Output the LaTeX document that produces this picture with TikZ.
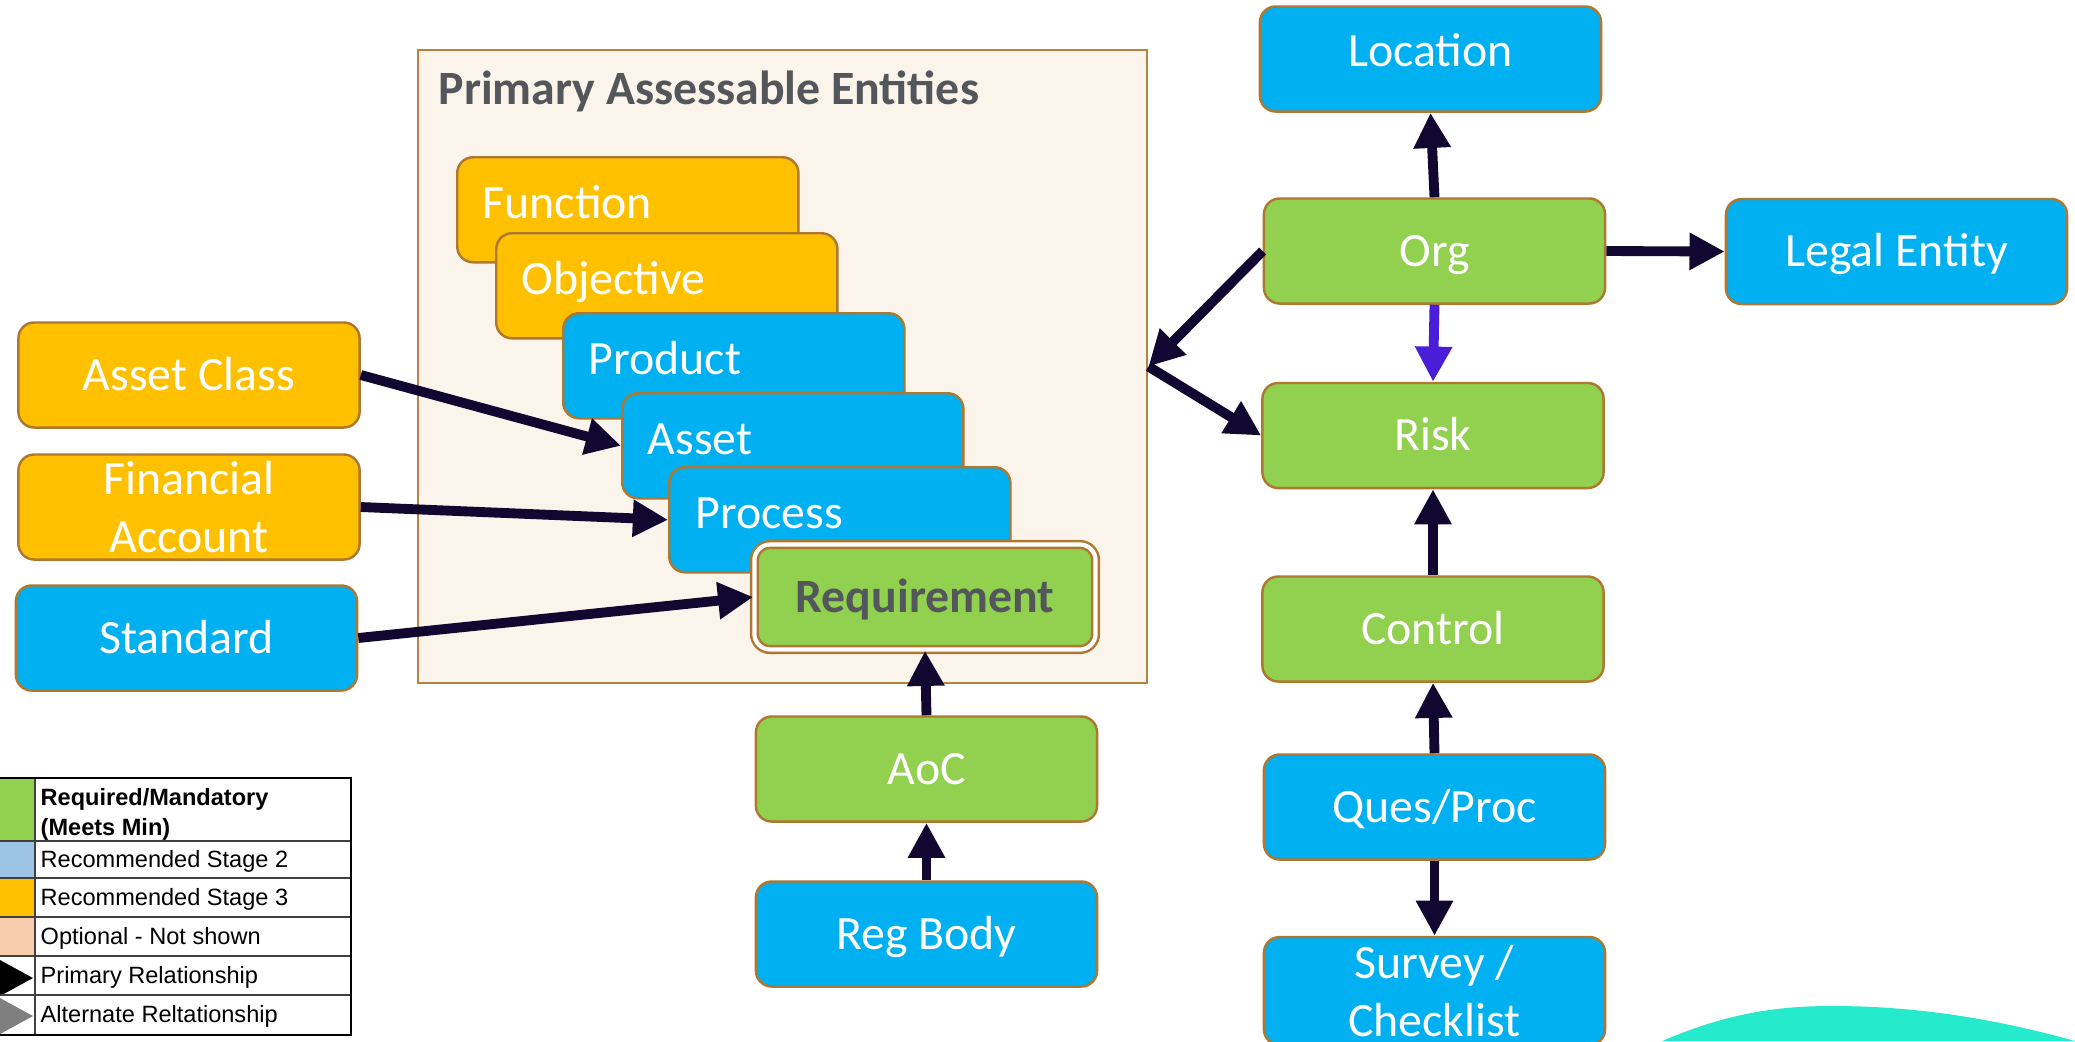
\documentclass[tikz,border=0pt]{standalone}
\usepackage{fontspec}
\setmainfont{Carlito}
\newfontfamily\legendfont{Liberation Sans}
\usetikzlibrary{arrows.meta}

\definecolor{reqgreen}{HTML}{92D050}
\definecolor{stageblue}{HTML}{00B0F0}
\definecolor{stageorange}{HTML}{FFC000}
\definecolor{boxedge}{HTML}{AE7830}
\definecolor{panelfill}{HTML}{FBF4EA}
\definecolor{paneledge}{HTML}{B58240}
\definecolor{relcolor}{HTML}{110730}
\definecolor{orgrisk}{HTML}{4A1ED8}
\definecolor{titlegray}{HTML}{53565A}
\definecolor{legblue}{HTML}{9DC3E6}
\definecolor{legpeach}{HTML}{F8CBAD}
\definecolor{leggray}{HTML}{7F7F7F}
\definecolor{wave}{HTML}{25EACB}

\newcommand{\boxfont}{\fontsize{13.6pt}{16.5pt}\selectfont}
\newcommand{\legfont}{\legendfont\fontsize{6.7pt}{8.5pt}\selectfont}

\tikzset{
    box/.style={draw=boxedge, line width=0.7pt, rounded corners=4.5pt,
        minimum width=3.41cm, minimum height=1.05cm, inner sep=0pt,
        text=white, font=\boxfont, align=center,
        text height=8.75pt, text depth=0pt},
    two lines/.style={text height=, text depth=},
    green box/.style={box, fill=reqgreen},
    blue box/.style={box, fill=stageblue},
    orange box/.style={box, fill=stageorange},
    stacktext/.style={anchor=base west, text=white, font=\boxfont, inner sep=0pt},
    rel/.style={draw=relcolor, line width=2.8pt, -{Triangle[length=10pt,width=10pt]}},
    legtext/.style={anchor=base west, font=\legfont, inner sep=0pt, align=left},
}

\begin{document}
\begin{tikzpicture}[x=0.01cm, y=-0.01cm]
    \useasboundingbox (0,0) rectangle (2075,1041);

    % assessable entities
    \node[draw=paneledge, fill=panelfill, line width=0.7pt, minimum width=7.29cm,
          minimum height=6.33cm, inner sep=0pt] (panel) at (782.5,366.5) {};
    \node[anchor=base west, inner sep=0pt, font=\boxfont\bfseries, text=titlegray]
          (title) at (438,104) {Primary Assessable Entities};

    \node[orange box, anchor=north west] (func) at (456,156) {};
    \node[stacktext] (functxt) at (482,218) {Function};
    \node[orange box, anchor=north west] (obj) at (495,232) {};
    \node[stacktext] (objtxt) at (521,294) {Objective};
    \node[blue box, anchor=north west] (prod) at (562,312) {};
    \node[stacktext] (prodtxt) at (588,374) {Product};
    \node[blue box, anchor=north west] (asset) at (621,392) {};
    \node[stacktext] (assettxt) at (647,454) {Asset};
    \node[blue box, anchor=north west] (proc) at (668,466) {};
    \node[stacktext] (proctxt) at (695,528) {Process};
    \node[green box, double=white, double distance=1.2pt, text=titlegray,
          font=\boxfont\bfseries] (req) at (925,597) {Requirement};

    % left side
    \node[orange box] (assetcls) at (189,375) {Asset Class};
    \node[orange box, two lines] (finacct) at (189,507) {Financial\\Account};
    \node[blue box] (standard) at (186.5,638) {Standard};

    % bottom middle
    \node[green box] (aoc) at (926.5,769) {AoC};
    \node[blue box] (regbody) at (926.5,934) {Reg Body};

    % right column
    \node[blue box, text depth=4.6pt] (loc) at (1430.5,59) {Location};
    \node[green box] (org) at (1434.5,251) {Org};
    \node[blue box] (legal) at (1896.5,251.5) {Legal Entity};
    \node[green box] (risk) at (1433,435.5) {Risk};
    \node[green box] (control) at (1433,629) {Control};
    \node[blue box] (ques) at (1434.5,807) {Ques/Proc};
    \node[blue box, two lines, minimum height=1.08cm] (survey) at (1434.5,991) {Survey /\\Checklist};

    % relationships
    \draw[rel] (assetcls.east) -- (asset.west);
    \draw[rel] (finacct.east) -- (proc.west);
    \draw[rel] (standard.east) -- (req.west);
    \draw[rel] (aoc.north) -- (req.south);
    \draw[rel] (regbody.north) -- (aoc.south);
    \draw[rel] (org.north) -- (loc.south);
    \draw[rel] (org.east) -- (legal.west);
    \draw[rel, draw=orgrisk] (org.south) -- (risk.north);
    \draw[rel] (org.west) -- (panel.east);
    \draw[rel] (panel.east) -- (risk.west);
    \draw[rel] (control.north) -- (risk.south);
    \draw[rel] (ques.north) -- (control.south);
    \draw[rel] (ques.south) -- (survey.north);

    % legend
    \fill[reqgreen] (0,778) rectangle (35,841);
    \fill[legblue] (0,841) rectangle (35,878);
    \fill[stageorange] (0,878) rectangle (35,917);
    \fill[legpeach] (0,917) rectangle (35,956);
    \fill[black] (0,960) -- (33,978) -- (0,996) -- cycle;
    \fill[leggray] (0,998) -- (33,1016) -- (0,1034) -- cycle;
    \draw[line width=0.5pt, draw=black!75] (0,841) -- (351,841) (0,878) -- (351,878)
        (0,917) -- (351,917) (0,956) -- (351,956) (0,995) -- (351,995)
        (35,778) -- (35,1035);
    \draw[line width=0.8pt] (0,778) -- (351,778) -- (351,1035) -- (0,1035);
    \node[legtext, font=\legfont\bfseries] (legreq) at (40,835) {Required/Mandatory\\(Meets Min)};
    \node[legtext] (legstwo) at (40,867) {Recommended Stage 2};
    \node[legtext] (legsthree) at (40,905) {Recommended Stage 3};
    \node[legtext] (legopt) at (40,944) {Optional - Not shown};
    \node[legtext] (legprim) at (40,983) {Primary Relationship};
    \node[legtext] (legalt) at (40,1022) {Alternate Reltationship};

    % wave in the corner
    \fill[wave] (1662,1041) .. controls (1730,1012) and (1780,1006) .. (1833,1006)
        .. controls (1920,1006) and (2000,1020) .. (2075,1041) -- cycle;
\end{tikzpicture}
\end{document}
